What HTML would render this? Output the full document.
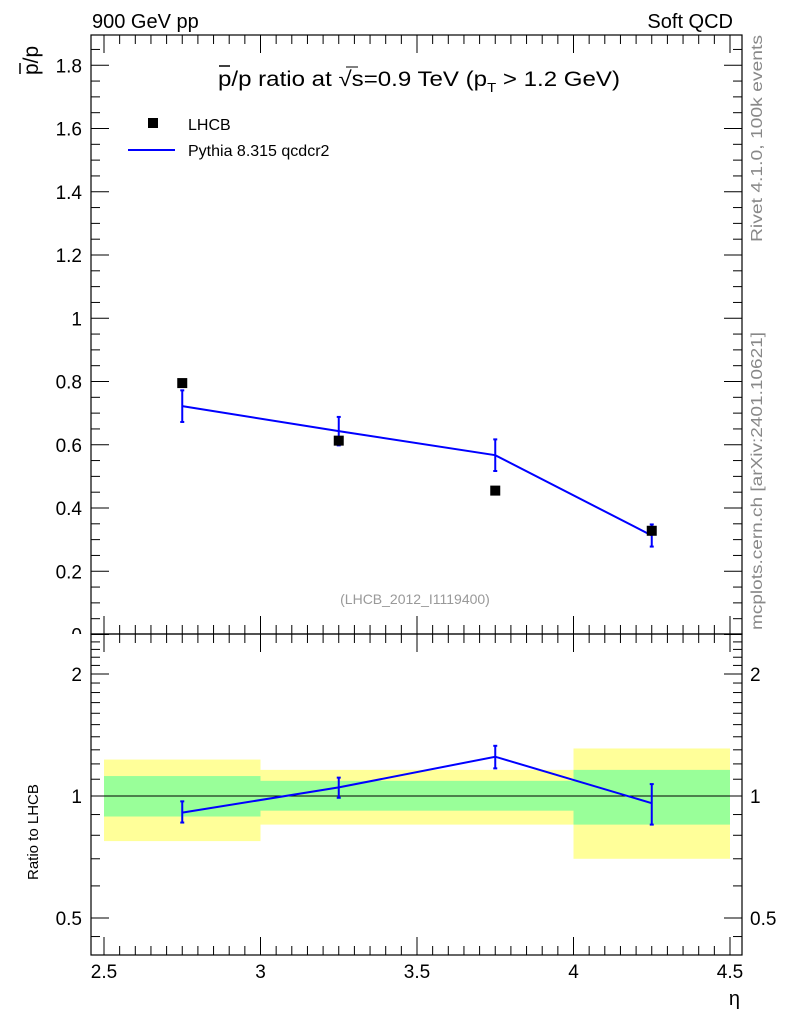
<!DOCTYPE html>
<html><head><meta charset="utf-8"><style>
body{margin:0;background:#fff}
svg text{font-family:"Liberation Sans",sans-serif}
</style></head><body>
<svg id="c" width="786" height="1024" xmlns="http://www.w3.org/2000/svg"></svg>
<script>
const xEdges=[2.5,3.0,3.5,4.0,4.5];
const xCenters=[2.75,3.25,3.75,4.25];
const dataVals=[0.795,0.613,0.455,0.328];
const mcVals=[0.722,0.643,0.567,0.313];
const mcErr=[0.05,0.045,0.05,0.035];
const ratioVals=[0.91,1.05,1.25,0.96];
const ratioLo=[0.86,0.99,1.17,0.85];
const ratioHi=[0.97,1.11,1.33,1.07];
const yelLo=[0.774,0.85,0.85,0.70];
const yelHi=[1.23,1.16,1.16,1.31];
const grnLo=[0.89,0.92,0.92,0.85];
const grnHi=[1.12,1.09,1.09,1.16];
const xTicks=[2.5,3,3.5,4,4.5];
const yTicks=[0,0.2,0.4,0.6,0.8,1,1.2,1.4,1.6,1.8];
const rTicks=[0.5,1,2];

const L=91,R=742,T=35,M=634,B=955;
const X=v=>104+(v-2.5)*313;
const Y=v=>634.5-v*316.25;
const RY=v=>796-Math.log2(v)*122;
const svg=document.getElementById('c');
const NS='http://www.w3.org/2000/svg';
function el(tag,attrs,txt){const e=document.createElementNS(NS,tag);for(const k in attrs)e.setAttribute(k,attrs[k]);if(txt!==undefined)e.textContent=txt;svg.appendChild(e);return e;}

yTicks.forEach(v=>{const t=el('text',{x:82,y:Y(v)+7,'font-size':19,'text-anchor':'end'},String(v));});
el('rect',{x:40,y:M,width:L-40,height:30,fill:'#fff'});

for(let i=0;i<4;i++){
 const y=el('rect',{x:X(xEdges[i]),y:RY(yelHi[i]),width:X(xEdges[i+1])-X(xEdges[i]),height:RY(yelLo[i])-RY(yelHi[i]),fill:'#ffff99'});
 
 const g=el('rect',{x:X(xEdges[i]),y:RY(grnHi[i]),width:X(xEdges[i+1])-X(xEdges[i]),height:RY(grnLo[i])-RY(grnHi[i]),fill:'#99ff99'});
 
}
el('line',{x1:L,x2:R,y1:RY(1),y2:RY(1),stroke:'#000','stroke-width':1});

el('rect',{x:L,y:T,width:R-L,height:M-T,fill:'none',stroke:'#000','stroke-width':1.2});
el('rect',{x:L,y:M,width:R-L,height:B-M,fill:'none',stroke:'#000','stroke-width':1.2});

for(let v=2.45;v<=4.56;v+=0.05){
 const vv=Math.round(v*100)/100;const maj=Math.abs(vv*2-Math.round(vv*2))<1e-6;const h=maj?18:9;const x=X(vv);
 if(x<L||x>R)continue;
 [[M,-1],[T,1],[B,-1],[M,1]].forEach(([y0,d])=>el('line',{x1:x,x2:x,y1:y0,y2:y0+d*h,stroke:'#000','stroke-width':1}));
}
xTicks.forEach(v=>{const t=el('text',{x:X(v),y:978,'font-size':19,'text-anchor':'middle'},String(v));});
for(let v=0;v<=1.9;v+=0.05){const vv=Math.round(v*100)/100;const maj=Math.abs(vv*5-Math.round(vv*5))<1e-6;const h=maj?18:9;const y=Y(vv);if(y<T)continue;
 el('line',{x1:L,x2:L+h,y1:y,y2:y,stroke:'#000'});el('line',{x1:R,x2:R-h,y1:y,y2:y,stroke:'#000'});}
const rmin=[0.5,0.6,0.7,0.8,0.9,1,1.1,1.2,1.3,1.4,1.5,1.6,1.7,1.8,1.9,2,2.1,2.2,2.3,2.4];
rmin.forEach(v=>{const maj=rTicks.includes(v);const h=maj?18:9;const y=RY(v);
 el('line',{x1:L,x2:L+h,y1:y,y2:y,stroke:'#000'});el('line',{x1:R,x2:R-h,y1:y,y2:y,stroke:'#000'});});
[0.45,0.4].forEach(v=>{const y=RY(v);if(y<B){el('line',{x1:L,x2:L+9,y1:y,y2:y,stroke:'#000'});el('line',{x1:R,x2:R-9,y1:y,y2:y,stroke:'#000'});}});
rTicks.forEach(v=>{const t=el('text',{x:82,y:RY(v)+7,'font-size':19,'text-anchor':'end'},String(v));
 const t2=el('text',{x:750,y:RY(v)+7,'font-size':19},String(v));});

let p='M'+X(xCenters[0])+','+Y(mcVals[0]);
for(let i=1;i<4;i++)p+=' L'+X(xCenters[i])+','+Y(mcVals[i]);
const ml=el('path',{d:p,fill:'none',stroke:'#0000ff','stroke-width':2});
for(let i=0;i<4;i++){const x=X(xCenters[i]);
 el('line',{x1:x,x2:x,y1:Y(mcVals[i]-mcErr[i]),y2:Y(mcVals[i]+mcErr[i]),stroke:'#0000ff','stroke-width':2});
 el('line',{x1:x-2,x2:x+2,y1:Y(mcVals[i]-mcErr[i]),y2:Y(mcVals[i]-mcErr[i]),stroke:'#0000ff','stroke-width':2});
 el('line',{x1:x-2,x2:x+2,y1:Y(mcVals[i]+mcErr[i]),y2:Y(mcVals[i]+mcErr[i]),stroke:'#0000ff','stroke-width':2});
 const d=el('rect',{x:x-5,y:Y(dataVals[i])-5,width:10,height:10,fill:'#000'});
}
let rp='M'+X(xCenters[0])+','+RY(ratioVals[0]);
for(let i=1;i<4;i++)rp+=' L'+X(xCenters[i])+','+RY(ratioVals[i]);
const rl=el('path',{d:rp,fill:'none',stroke:'#0000ff','stroke-width':2});
for(let i=0;i<4;i++){const x=X(xCenters[i]);
 el('line',{x1:x,x2:x,y1:RY(ratioLo[i]),y2:RY(ratioHi[i]),stroke:'#0000ff','stroke-width':2});
 el('line',{x1:x-2,x2:x+2,y1:RY(ratioLo[i]),y2:RY(ratioLo[i]),stroke:'#0000ff','stroke-width':2});
 el('line',{x1:x-2,x2:x+2,y1:RY(ratioHi[i]),y2:RY(ratioHi[i]),stroke:'#0000ff','stroke-width':2});}
</script>
<svg width="786" height="1024" style="position:absolute;left:0;top:0" xmlns="http://www.w3.org/2000/svg">
<text x="92" y="28" font-size="20">900 GeV pp</text>
<text x="733" y="28" font-size="20" text-anchor="end">Soft QCD</text>
<text transform="translate(38,75) rotate(-90)" font-size="21">p/p</text>
<line x1="20" y1="74" x2="20" y2="63" stroke="#000" stroke-width="1.5"/>
<text x="218" y="86" font-size="21" textLength="402" lengthAdjust="spacingAndGlyphs">p/p ratio at √s=0.9 TeV (p<tspan font-size="13" dy="6">T</tspan><tspan dy="-6"> &gt; 1.2 GeV)</tspan></text>
<line x1="219" y1="66" x2="230" y2="66" stroke="#000" stroke-width="1.5"/>
<line x1="346" y1="67" x2="358" y2="67" stroke="#000" stroke-width="1"/>
<rect x="148" y="118" width="10" height="10" fill="#000"/>
<text x="188" y="130" font-size="16">LHCB</text>
<line x1="128" y1="150" x2="175" y2="150" stroke="#0000ff" stroke-width="2"/>
<text x="188" y="156" font-size="16">Pythia 8.315 qcdcr2</text>
<text x="415" y="604" font-size="14" fill="#999" text-anchor="middle">(LHCB_2012_I1119400)</text>
<text transform="translate(762,242) rotate(-90)" font-size="16" fill="#888" textLength="207" lengthAdjust="spacingAndGlyphs">Rivet 4.1.0,  100k events</text>
<text transform="translate(762,630) rotate(-90)" font-size="16" fill="#888" textLength="298" lengthAdjust="spacingAndGlyphs">mcplots.cern.ch [arXiv:2401.10621]</text>
<text transform="translate(38,880) rotate(-90)" font-size="15">Ratio to LHCB</text>
<text x="740" y="1005" font-size="20" text-anchor="end">η</text>
</svg>
</body></html>
